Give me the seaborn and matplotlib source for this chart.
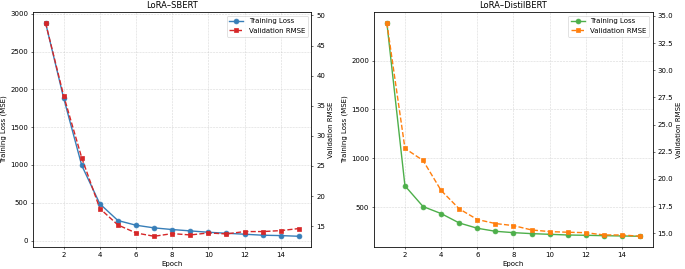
import numpy as np
import pandas as pd
import matplotlib.pyplot as plt
import seaborn as sns

### DATA ###
epochs = list(range(1, 16))

sbert_train_loss = [2880, 1886, 994, 486, 265, 203, 168, 146, 128, 110, 97, 84, 71, 66, 57]
sbert_val_rmse = [48.78, 36.68, 26.36, 17.93, 15.2, 13.87, 13.32, 13.76, 13.54, 13.87,
                  13.71, 14.1, 14.1, 14.26, 14.6]

distil_train_loss = [2386, 719, 507, 435, 339, 285, 254, 240, 230, 223, 216, 213, 209, 206, 203]
distil_val_rmse = [34.36, 22.81, 21.7, 18.94, 17.25, 16.27, 15.9, 15.71, 15.31, 15.16,
                   15.1, 15.06, 14.85, 14.85, 14.73]

### PLOT HELPER ###
def plot_panel(ax, title, train_loss, val_rmse, train_color, val_color):
    ax2 = ax.twinx()
    sns.lineplot(x=epochs, y=train_loss, ax=ax, color=train_color, marker='o',
                 markersize=7, markeredgecolor=train_color, markeredgewidth=1,
                 linewidth=2, label='Training Loss')
    sns.lineplot(x=epochs, y=val_rmse, ax=ax2, color=val_color, marker='s',
                 markersize=7, markeredgecolor=val_color, markeredgewidth=1,
                 linewidth=2, linestyle='--', label='Validation RMSE')
    ax.set_title(title, fontsize=12)
    ax.set_xlabel('Epoch')
    ax.set_ylabel('Training Loss (MSE)')
    ax2.set_ylabel('Validation RMSE')
    ax.grid(True, linestyle='--', alpha=0.5)
    # combine legends into one box on top axis
    h1, l1 = ax.get_legend_handles_labels()
    h2, l2 = ax2.get_legend_handles_labels()
    if ax.get_legend():
        ax.get_legend().remove()
    ax2.legend(h1 + h2, l1 + l2, loc='upper right')
    return ax2

### MAIN ###
fig, axes = plt.subplots(1, 2, figsize=(13.7, 5.38), dpi=50)
plot_panel(axes[0], 'LoRA–SBERT', sbert_train_loss, sbert_val_rmse, '#377eb8', '#d62728')
plot_panel(axes[1], 'LoRA–DistilBERT', distil_train_loss, distil_val_rmse, '#4daf4a', '#ff7f0e')
fig.subplots_adjust(left=0.048, right=0.953, bottom=0.082, top=0.955, wspace=0.225)
fig.savefig('out.png', dpi=50)
